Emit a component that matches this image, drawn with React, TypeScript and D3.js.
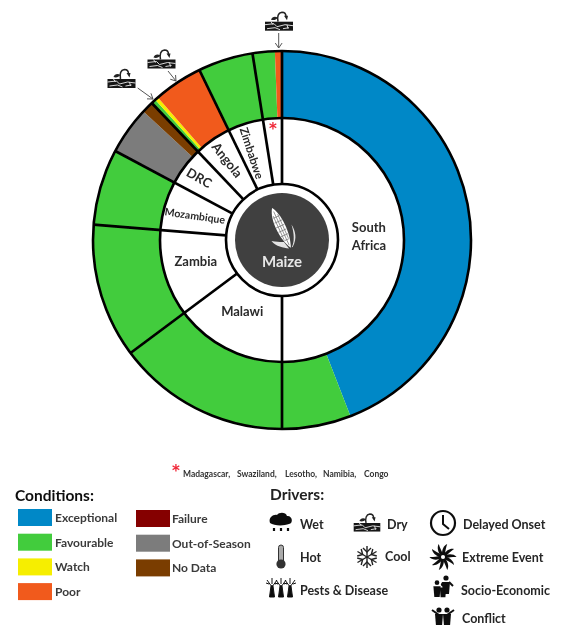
import React, { useEffect, useRef } from "react";
import * as d3 from "d3";

const countries = ["South Africa", "Malawi", "Zambia", "Mozambique", "DRC", "Angola", "Zimbabwe", "Others"];
const countryShares = [50, 14.8, 11.5, 6.5, 5.1, 4.9, 4.7, 2.5];

const segmentConditions = [
  "Exceptional", "Favourable", "Favourable", "Favourable", "Favourable",
  "Out-of-Season", "No Data", "Favourable", "Watch", "Poor", "Favourable", "Favourable", "Poor",
];
const segmentShares = [44.1, 5.9, 14.8, 11.5, 6.5, 4.1, 1.0, 0.4, 0.3, 4.2, 4.7, 1.9, 0.6];

const conditionNames = ["Exceptional", "Favourable", "Watch", "Poor", "Failure", "Out-of-Season", "No Data"];
const conditionColors = ["#0088c7", "#43cc3c", "#f6ee00", "#f15a1f", "#850000", "#7c7c7c", "#7a3e00"];

const footnoteNames = ["Madagascar,", "Swaziland,", "Lesotho,", "Namibia,", "Congo"];
const footnoteX = [183, 237, 285, 323, 364];

const font = "Lato, 'Open Sans', sans-serif";
const starFont = "'DejaVu Sans', sans-serif";
const cx = 282, cy = 240;
const outerR = 189, midR = 122, innerR = 56, coreR = 47;

function dryIcon(g: any, x: number, y: number, s = 1) {
  const i = g.append("g").attr("transform", `translate(${x},${y}) scale(${s})`);
  i.append("rect").attr("x", -14).attr("y", 0).attr("width", 28).attr("height", 9).attr("fill", "#161616");
  i.append("path").attr("d", "M-14 3 L-5 2 L-2 5 L6 3 L14 4 M-12 7 L-4 6 L1 8 M4 7 L10 6 M-8 0 L-6 3 M8 3 L9 7").attr("fill", "none").attr("stroke", "#eee").attr("stroke-width", 0.9);
  i.append("path").attr("d", "M-1 0 C-2 -5 -1 -9 3 -9.5 C6 -9.5 7 -7 7 -5").attr("fill", "none").attr("stroke", "#222").attr("stroke-width", 1.5);
  i.append("path").attr("d", "M-1 -4 C-4 -6 -7 -5 -8 -2 C-5 -1 -3 -2 -1 -4Z M5 -6 L9 -6 L8 -1.5 Z").attr("fill", "#222");
}

function arrow(g: any, x1: number, y1: number, x2: number, y2: number) {
  g.append("line").attr("x1", x1).attr("y1", y1).attr("x2", x2).attr("y2", y2).attr("stroke", "#555").attr("stroke-width", 1);
  const a = Math.atan2(y2 - y1, x2 - x1);
  const p = (d: number) => `${x2 - 6 * Math.cos(a + d)} ${y2 - 6 * Math.sin(a + d)}`;
  g.append("path").attr("d", `M${p(0.6)} L${x2} ${y2} L${p(-0.6)}`).attr("fill", "none").attr("stroke", "#555").attr("stroke-width", 1);
}

function label(g: any, x: number, y: number, t: string, size: number, weight = 700, color = "#262626") {
  return g.append("text").attr("x", x).attr("y", y).attr("font-family", font).attr("font-size", size)
    .attr("font-weight", weight).attr("fill", color).text(t);
}

function drawDonut(svg: any) {
  const pie = d3.pie<number>().sort(null).value((d) => d);
  const chart = svg.append("g").attr("transform", `translate(${cx},${cy})`);

  const segArc: any = d3.arc().innerRadius(midR).outerRadius(outerR);
  chart.selectAll("path.segment").data(pie(segmentShares)).enter().append("path")
    .attr("class", "segment").attr("d", segArc)
    .attr("fill", (_: any, i: number) => conditionColors[conditionNames.indexOf(segmentConditions[i])]);

  const slices = pie(countryShares);

  // dividers only between countries, not between conditions
  chart.selectAll("line.divider").data(slices).enter().append("line")
    .attr("class", "divider")
    .attr("x1", (d: any) => innerR * Math.sin(d.startAngle))
    .attr("y1", (d: any) => -innerR * Math.cos(d.startAngle))
    .attr("x2", (d: any) => outerR * Math.sin(d.startAngle))
    .attr("y2", (d: any) => -outerR * Math.cos(d.startAngle))
    .attr("stroke", "#000").attr("stroke-width", 2.7);

  const ring = (r: number, w: number) =>
    chart.append("circle").attr("r", r).attr("fill", "none").attr("stroke", "#000").attr("stroke-width", w);
  ring(outerR, 2.6);
  ring(midR, 2.6);
  chart.append("circle").attr("r", innerR).attr("fill", "#fff").attr("stroke", "#000").attr("stroke-width", 2.6);
  chart.append("circle").attr("r", coreR).attr("fill", "#404040");

  // country names placed along their slices
  const nameStyles: Record<string, any> = {
    "South Africa": { r: 87, a: 87.4, size: 13, lines: ["South", "Africa"], rot: 0 },
    Malawi: { r: 82, a: 209, size: 13, lines: ["Malawi"], rot: 0 },
    Zambia: { r: 89, a: 255.7, size: 13, lines: ["Zambia"], rot: 0 },
    Mozambique: { r: 90.5, a: 286, size: 10.5, lines: ["Mozambique"], rot: 8 },
    DRC: { r: 103.6, a: 306.8, size: 13, lines: ["DRC"], rot: 30 },
    Angola: { r: 97, a: 325.5, size: 13, lines: ["Angola"], rot: 52 },
    Zimbabwe: { r: 92, a: 341, size: 11.5, lines: ["Zimbabwe"], rot: 72 },
  };
  countries.forEach((c) => {
    const st = nameStyles[c];
    if (!st) return;
    const t = (st.a * Math.PI) / 180;
    const x = st.r * Math.sin(t), y = -st.r * Math.cos(t);
    const text = chart.append("text").attr("transform", `translate(${x},${y}) rotate(${st.rot})`)
      .attr("text-anchor", "middle").attr("font-family", font).attr("font-size", st.size)
      .attr("font-weight", 700).attr("fill", "#2a2a2a");
    st.lines.forEach((l: string, i: number) => {
      text.append("tspan").attr("x", 0).attr("y", (i - (st.lines.length - 1) / 2) * 18 + 4.5).text(l);
    });
  });

  const last = slices[slices.length - 1];
  const starA = (last.startAngle + last.endAngle) / 2;
  chart.append("text").attr("x", 115 * Math.sin(starA)).attr("y", -115 * Math.cos(starA) + 9)
    .attr("text-anchor", "middle").attr("font-family", starFont).attr("font-size", 15).attr("font-weight", 700)
    .attr("fill", "#f02838").text("*");

  // maize cob
  const cob = chart.append("g").attr("transform", "translate(-1,-12) rotate(-24)");
  cob.append("path").attr("d", "M-1 22 C-6 19 -12 15 -14 8 C-9 11 -6 13 -3 14Z M2 22 C7 18 10 10 11 1 C12 8 11 16 3 22Z").attr("fill", "#e4e4e4");
  cob.append("path").attr("d", "M0 -22 C6 -14 7 8 1 22 C-6 10 -7 -12 0 -22Z").attr("fill", "#fff");
  cob.append("path").attr("d", "M-3 -12 L3.5 -12 M-4 -7 L4.5 -7 M-4.5 -2 L4.5 -2 M-4 3 L4.5 3 M-3.5 8 L4 8 M-2 13 L3 13 M0 -18 L0.5 19 M-2.3 -14 L-2 12 M2.6 -14 L2.6 12")
    .attr("stroke", "#777").attr("stroke-width", 0.7);
  chart.append("text").attr("y", 27).attr("text-anchor", "middle").attr("font-family", font)
    .attr("font-size", 15).attr("font-weight", 700).attr("fill", "#e8e8e8").text("Maize");
}

function drawDrivers(svg: any) {
  const g = svg.append("g");
  // dry markers above the ring
  dryIcon(g, 279, 21.7);
  arrow(g, 278.7, 33, 278.7, 48);
  dryIcon(g, 161.5, 59.5);
  arrow(g, 168, 71, 176, 81);
  dryIcon(g, 121.5, 79);
  arrow(g, 137.7, 88, 153, 99);

  label(g, 270, 500, "Drivers:", 15.5, 700, "#222");

  // wet
  const wet = g.append("g").attr("transform", "translate(281,520)");
  wet.append("path").attr("d", "M-11 3 C-13 -3 -7 -6 -4 -5 C-2 -8 5 -8 6 -4 C11 -5 13 3 8 4 C3 6 -7 6 -11 3Z").attr("fill", "#111");
  wet.append("path").attr("d", "M-7 8 l0 3 M0 8 l0 3 M7 8 l0 3").attr("stroke", "#111").attr("stroke-width", 2.2);
  label(g, 300, 528.5, "Wet", 12.5);

  dryIcon(g, 367, 523, 0.95);
  label(g, 387, 528.5, "Dry", 12.5);

  // delayed onset clock
  const clock = g.append("g").attr("transform", "translate(443,523)");
  clock.append("circle").attr("r", 12).attr("fill", "#fff").attr("stroke", "#111").attr("stroke-width", 2.2);
  clock.append("path").attr("d", "M0 -8 L0 1 L6 6").attr("fill", "none").attr("stroke", "#111").attr("stroke-width", 2);
  label(g, 463, 529, "Delayed Onset", 12.5);

  // hot thermometer
  const hot = g.append("g").attr("transform", "translate(281,556)");
  hot.append("rect").attr("x", -2.5).attr("y", -11).attr("width", 5).attr("height", 20).attr("rx", 2.5).attr("fill", "#aaa").attr("stroke", "#333");
  hot.append("circle").attr("cy", 8).attr("r", 4.6).attr("fill", "#333");
  label(g, 300, 561.5, "Hot", 12.5);

  // cool snowflake
  const cool = g.append("g").attr("transform", "translate(367,557)").attr("stroke", "#222").attr("stroke-width", 1.4);
  [0, 60, 120].forEach((a) => {
    cool.append("line").attr("y1", -11).attr("y2", 11).attr("transform", `rotate(${a})`);
    cool.append("path").attr("d", "M-4 -9 L0 -5 L4 -9 M-4 9 L0 5 L4 9").attr("fill", "none").attr("transform", `rotate(${a})`);
  });
  label(g, 385, 561, "Cool", 12.5);

  // extreme event swirl
  const swirl = g.append("g").attr("transform", "translate(443,557)");
  d3.range(10).forEach((i) => {
    swirl.append("path").attr("d", "M1 -3 C3 -6 7 -9 11 -8 C8 -6 5 -3 3 -1Z").attr("fill", "#111").attr("transform", `rotate(${i * 36})`);
  });
  swirl.append("circle").attr("r", 2.8).attr("fill", "#fff").attr("stroke", "#111").attr("stroke-width", 1.5);
  label(g, 462, 562, "Extreme Event", 12.5);

  // pests and disease, bare trees
  const pests = g.append("g").attr("transform", "translate(281,588)").attr("stroke", "#111").attr("fill", "none");
  [-9, 0, 9].forEach((x) => {
    pests.append("path").attr("d", `M${x} 8 L${x} -3 M${x} -1 L${x - 5} -8 M${x} -1 L${x + 5} -8 M${x} -4 L${x} -10 M${x - 3} -4 L${x - 6} -5 M${x + 3} -4 L${x + 6} -5`).attr("stroke-width", 1);
    pests.append("path").attr("d", `M${x - 2.5} 9 L${x - 1} -2 L${x + 1} -2 L${x + 2.5} 9Z`).attr("fill", "#111");
  });
  label(g, 300, 595, "Pests & Disease", 12.5);

  // people icons
  const person = (p: any, x: number, y: number, s: number) => {
    p.append("circle").attr("cx", x).attr("cy", y - 7 * s).attr("r", 2.6 * s).attr("fill", "#111");
    p.append("path").attr("d", `M${x - 4 * s} ${y - 3 * s} L${x + 4 * s} ${y - 3 * s} L${x + 3 * s} ${y + 9 * s} L${x - 3 * s} ${y + 9 * s}Z`).attr("fill", "#111");
  };
  const socio = g.append("g").attr("transform", "translate(442,588)");
  person(socio, -5, 1, 0.9);
  person(socio, 1, 2, 0.8);
  person(socio, 4, -3, 1);
  socio.append("path").attr("d", "M7 -6 L11 -2").attr("stroke", "#111").attr("stroke-width", 2);
  label(g, 461, 595, "Socio-Economic", 12.5);

  const conflict = g.append("g").attr("transform", "translate(443,617)");
  person(conflict, -4, 0, 1);
  person(conflict, 4, 0, 1);
  conflict.append("path").attr("d", "M-11 -7 L-4 -2 M11 -7 L4 -2").attr("stroke", "#111").attr("stroke-width", 2);
  label(g, 462, 622.5, "Conflict", 12.5);
}

function drawLegend(svg: any) {
  const g = svg.append("g");
  label(g, 15, 501, "Conditions:", 15.5, 700, "#111");
  conditionNames.forEach((c, i) => {
    const col = i < 4 ? 0 : 1;
    const row = col ? i - 4 : i;
    const x = col ? 136 : 18;
    const y = (col ? 510 : 509) + row * 24.7;
    g.append("rect").attr("x", x).attr("y", y).attr("width", 34).attr("height", 17).attr("fill", conditionColors[i]);
    label(g, x + (col ? 36 : 37), y + 13, c, 12, 700, "#3a3a3a");
  });

  g.append("text").attr("x", 172).attr("y", 476).attr("font-family", starFont).attr("font-size", 15)
    .attr("font-weight", 700).attr("fill", "#f02838").text("*");
  footnoteNames.forEach((n, i) => {
    label(g, footnoteX[i], 477, n, 8.5, 700, "#333");
  });
}

export default function App() {
  const ref = useRef<SVGSVGElement>(null);
  useEffect(() => {
    const svg = d3.select(ref.current);
    svg.selectAll("*").remove();
    // the reference is a soft scan, so everything gets a slight blur
    svg.append("defs").append("filter").attr("id", "soft")
      .attr("filterUnits", "userSpaceOnUse")
      .attr("x", 0).attr("y", 0).attr("width", 566).attr("height", 625)
      .append("feGaussianBlur").attr("stdDeviation", 0.45);
    const root = svg.append("g").attr("filter", "url(#soft)");
    root.append("rect").attr("width", 566).attr("height", 625).attr("fill", "#fff");
    drawDonut(root);
    drawDrivers(root);
    drawLegend(root);
  }, []);
  return (
    <svg
      ref={ref}
      width={566}
      height={625}
      style={{ position: "fixed", left: 0, top: 0, background: "#fff" }}
    />
  );
}
